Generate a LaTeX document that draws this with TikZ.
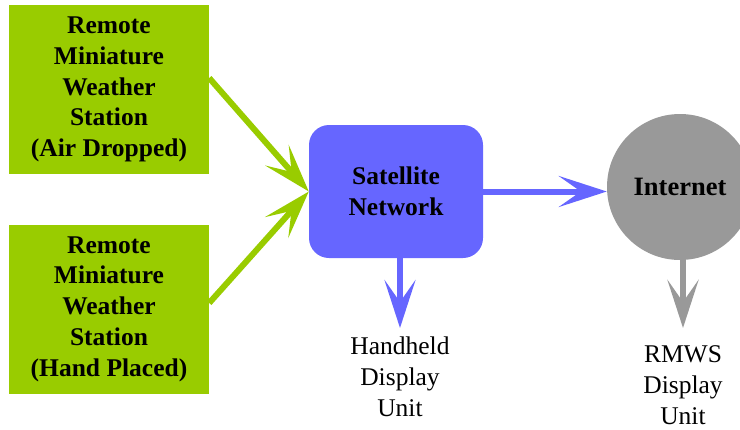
\documentclass[tikz,border=0pt]{standalone}
\usepackage{fontspec}
\setmainfont{Liberation Serif}[BoldFont={Liberation Serif Bold}]
\usetikzlibrary{arrows.meta}
\definecolor{stationgreen}{HTML}{99CC00}
\definecolor{netblue}{HTML}{6666FF}
\definecolor{webgray}{HTML}{999999}
\begin{document}
\begin{tikzpicture}[x=1pt,y=-1pt,
  txt/.style={font=\fontsize{25.5}{30.8}\selectfont, align=center, inner sep=0pt},
  station/.style={txt, font=\fontsize{25.5}{30.8}\selectfont\bfseries, fill=stationgreen,
    minimum width=200pt, minimum height=169pt},
  satbox/.style={txt, font=\fontsize{25.5}{30.8}\selectfont\bfseries, fill=netblue,
    rounded corners=20pt, minimum width=174pt, minimum height=133pt},
  netdisc/.style={txt, font=\fontsize{26.5}{30.8}\selectfont\bfseries, circle, fill=webgray,
    minimum size=146pt},
  head/.style={-{Stealth[length=48pt, width=31pt, inset=22pt]}},
  garrow/.style={head, draw=stationgreen, fill=stationgreen, line width=6pt},
  barrow/.style={head, draw=netblue, fill=netblue, line width=6pt},
  grarrow/.style={head, draw=webgray, fill=webgray, line width=6.5pt},
]
\clip (0,0) rectangle (740,429);

% weather stations
\node[station] (air)  at (109,89.5) {Remote\\Miniature\\Weather\\Station\\(Air Dropped)};
\node[station] (hand) at (109,309)  {Remote\\Miniature\\Weather\\Station\\(Hand Placed)};

% satellite network and internet
\node[satbox]  (sat)  at (396,191.5) {Satellite\\Network};
\node[netdisc] (inet) at (680,187)   {Internet};

% display units
\node[txt] (hdu)  at (400,377) {Handheld\\Display\\Unit};
\node[txt] (rmws) at (683,385) {RMWS\\Display\\Unit};
\coordinate (hdtip) at (400,328);
\coordinate (rmtip) at (683,328);

% connectors
\draw[garrow] ([yshift=11.5pt]air.east) -- (sat.west);
\draw[garrow] ([yshift=6pt]hand.east) -- (sat.west);
\draw[barrow] (sat.east) -- (sat.east -| inet.west);
\draw[barrow] ([xshift=4pt]sat.south) -- (hdtip);
\draw[grarrow] ([xshift=3pt]inet.south) -- (rmtip);
\end{tikzpicture}
\end{document}
